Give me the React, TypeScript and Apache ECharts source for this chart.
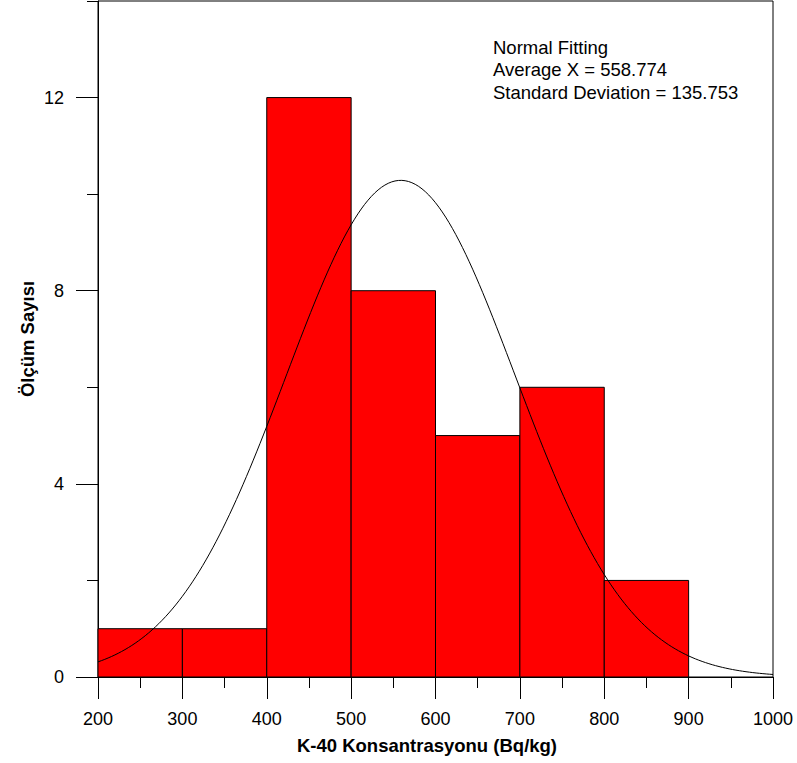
import React, { useEffect, useRef } from "react";
import * as echarts from "echarts";

const binStarts = [200, 300, 400, 500, 600, 700, 800];
const binWidth = 100;
const counts = [1, 1, 12, 8, 5, 6, 2];
const fitMean = 558.774;
const fitSd = 135.753;
const xTicks = [200, 300, 400, 500, 600, 700, 800, 900, 1000];
const yMajorTicks = [0, 4, 8, 12];
const yMinorTicks = [2, 6, 10, 14];
const annotationLines = [
  "Normal Fitting",
  "Average X = 558.774",
  "Standard Deviation = 135.753",
];

const FONT = "'Liberation Sans', Arial, sans-serif";

export default function App() {
  const ref = useRef<HTMLDivElement>(null);
  useEffect(() => {
    if (!ref.current) return;
    const chart = echarts.init(ref.current, null, { renderer: "svg" });
    const total = counts.reduce((a, b) => a + b, 0);
    const scale = (total * binWidth) / (fitSd * Math.sqrt(2 * Math.PI));
    const curve: number[][] = [];
    for (let x = 200; x <= 1000; x += 4) {
      const z = (x - fitMean) / fitSd;
      curve.push([x, scale * Math.exp(-0.5 * z * z)]);
    }
    const bars = binStarts.map((s, i) => [s, s + binWidth, counts[i]]);
    const axisLine = { show: true, lineStyle: { color: "#000", width: 1 } };
    chart.setOption({
      animation: false,
      grid: {
        left: 98,
        right: 24,
        top: 1,
        bottom: 86,
        show: true,
        borderColor: "#000",
        borderWidth: 1,
      },
      xAxis: {
        type: "value",
        min: 200,
        max: 1000,
        interval: 100,
        axisLine,
        axisTick: { show: true, length: 22, lineStyle: { color: "#000" } },
        minorTick: { show: true, splitNumber: 2, length: 11, lineStyle: { color: "#000" } },
        splitLine: { show: false },
        minorSplitLine: { show: false },
        axisLabel: {
          margin: 33,
          fontSize: 18,
          color: "#000",
          fontFamily: FONT,
          customValues: xTicks,
          formatter: (v: number) => String(v),
        },
      },
      yAxis: [
        {
          type: "value",
          min: 0,
          max: 14,
          interval: 2,
          axisLine,
          axisTick: { show: true, length: 22, customValues: yMajorTicks, lineStyle: { color: "#000" } },
          splitLine: { show: false },
          axisLabel: {
            margin: 34,
            fontSize: 18,
            color: "#000",
            fontFamily: FONT,
            customValues: yMajorTicks,
            formatter: (v: number) => String(v),
          },
        },
        {
          type: "value",
          min: 0,
          max: 14,
          interval: 2,
          position: "left",
          axisLine: { show: false },
          axisTick: { show: true, length: 11, customValues: yMinorTicks, lineStyle: { color: "#000" } },
          splitLine: { show: false },
          axisLabel: { show: false },
        },
      ],
      series: [
        {
          type: "custom",
          data: bars,
          renderItem: (params: any, api: any) => {
            const p0 = api.coord([api.value(0), api.value(2)]);
            const p1 = api.coord([api.value(1), 0]);
            return {
              type: "rect",
              shape: { x: p0[0], y: p0[1], width: p1[0] - p0[0], height: p1[1] - p0[1] },
              style: { fill: "#ff0000", stroke: "#000", lineWidth: 1 },
            };
          },
          encode: { x: [0, 1], y: 2 },
          z: 1,
        },
        {
          type: "line",
          data: curve,
          showSymbol: false,
          symbol: "none",
          lineStyle: { color: "#000", width: 1 },
          z: 3,
        },
      ],
      graphic: [
        {
          type: "text",
          left: 493,
          top: 36,
          style: {
            text: annotationLines.join("\n"),
            font: `18.5px ${FONT}`,
            lineHeight: 22.5,
            fill: "#000",
          },
        },
        {
          type: "text",
          x: 427,
          y: 745,
          style: {
            text: "K-40 Konsantrasyonu (Bq/kg)",
            font: `bold 18.5px ${FONT}`,
            fill: "#000",
            align: "center",
            verticalAlign: "middle",
          },
        },
        {
          type: "text",
          x: 27,
          y: 339,
          rotation: Math.PI / 2,
          style: {
            text: "Ölçüm Sayısı",
            font: `bold 18.5px ${FONT}`,
            fill: "#000",
            align: "center",
            verticalAlign: "middle",
          },
        },
      ],
    });
    return () => chart.dispose();
  }, []);
  return <div ref={ref} style={{ width: 797, height: 763, position: "absolute", left: 0, top: 0 }} />;
}
